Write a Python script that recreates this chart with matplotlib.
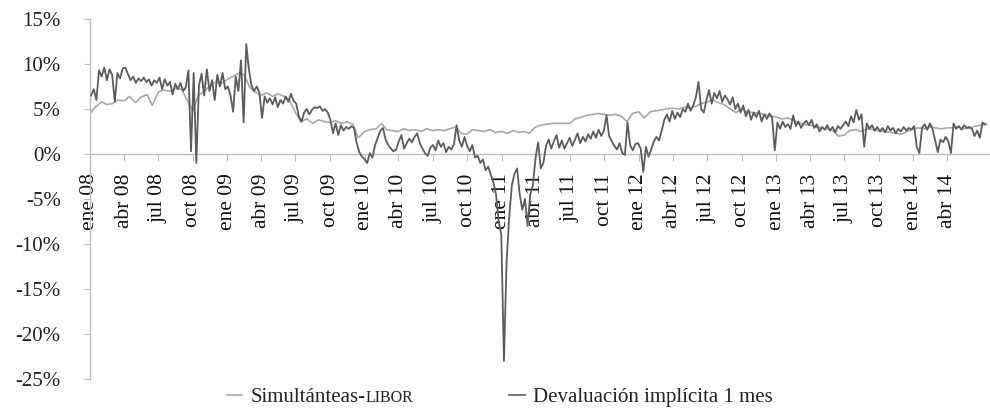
import matplotlib
matplotlib.use("Agg")
import matplotlib.pyplot as plt
from matplotlib.lines import Line2D
import pandas as pd

plt.rcParams['font.family'] = ['Liberation Serif', 'DejaVu Serif']

# ---------------- data ----------------
series_names = ["Simultánteas-", "Devaluación implícita 1 mes"]
libor_label = "LIBOR"

# Devaluación implícita 1 mes (weekly, %), starting first week of Jan 2008
dev_start = "2008-01-04"
dev_values = [
    # 2008
    6.5, 7.2, 6.0, 9.3, 8.6, 9.6, 8.2, 9.4, 8.8, 5.8, 9.0, 8.4, 9.5,
    9.6, 8.9, 8.2, 8.6, 7.9, 8.4, 8.1, 8.5, 8.0, 8.3, 7.6, 8.2, 7.9,
    8.5, 7.2, 8.3, 7.6, 8.0, 6.6, 7.8, 7.2, 7.9, 7.0, 7.4, 9.3, 0.3,
    9.0, -1.0, 7.6, 8.9, 6.5, 9.4, 7.0, 8.2, 6.0, 8.8, 7.5, 9.0, 7.2,
    # 2009
    7.5, 6.5, 4.7, 8.6, 7.0, 10.4, 3.5, 12.2, 9.4, 7.6, 7.0, 7.5, 6.8,
    4.0, 6.4, 5.7, 6.2, 5.5, 6.3, 5.2, 6.0, 5.6, 6.4, 5.8, 6.7, 5.9,
    5.6, 4.2, 3.6, 4.6, 5.0, 4.4, 4.9, 5.2, 5.1, 5.3, 4.8, 5.0, 4.6,
    3.8, 2.3, 3.4, 2.1, 3.2, 2.6, 3.0, 2.8, 3.1, 2.9, 1.2, 0.2, -0.3,
    # 2010
    -0.6, -1.0, 0.1, -0.4, 1.0, 1.8, 2.6, 2.9, 1.6, 1.0, 0.6, 0.3, 0.5,
    1.4, 2.1, 0.6, 1.2, 1.7, 1.3, 1.9, 2.3, 1.2, 0.6, 0.1, -0.2, 0.7,
    1.0, 0.4, 1.5, 0.8, 1.2, 0.2, 0.8, 0.5, 1.1, 3.2, 1.5, 0.8, 1.9,
    0.9, 0.3, 1.0, -0.4, -0.2, -1.0, -0.6, -1.8, -1.4, -2.3, -3.2, -4.5, -7.5,
    # 2011
    -9.0, -23.0, -12.0, -7.0, -3.5, -2.2, -1.6, -4.5, -6.2, -5.0, -8.0, -4.5, -3.5,
    -0.5, 1.3, -1.6, -1.0, 0.9, 1.6, 0.6, 1.4, 2.1, 0.7, 1.5, 0.6, 1.2,
    1.8, 0.9, 1.6, 2.3, 1.2, 1.9, 1.4, 2.2, 1.7, 2.5, 1.8, 2.7, 2.0,
    2.6, 4.3, 2.0, 1.4, 0.9, 0.5, 1.2, 0.1, -0.1, 3.5, 1.0, 0.4, 1.1,
    # 2012
    1.2, 0.6, -2.0, 0.8, -0.3, 0.5, 1.4, 1.9, 1.5, 2.6, 3.8, 4.4, 3.6,
    4.8, 3.9, 4.6, 4.1, 5.0, 4.7, 5.6, 4.8, 5.4, 6.3, 8.0, 5.0, 4.6,
    6.0, 7.1, 5.6, 6.8, 6.2, 7.0, 5.8, 6.5, 6.1, 5.5, 6.3, 5.0, 5.6,
    4.6, 5.4, 4.2, 4.9, 3.8, 4.6, 4.1, 4.8, 3.6, 4.4, 3.9, 4.5, 4.0,
    # 2013
    0.4, 3.5, 2.8, 3.6, 3.0, 3.3, 2.8, 4.3, 3.1, 3.6, 2.9, 3.4, 3.7,
    3.2, 3.8, 2.9, 3.3, 2.5, 3.0, 2.7, 3.2, 2.6, 3.0, 2.4, 3.1, 2.8,
    3.2, 3.6, 3.1, 4.2, 3.5, 4.9, 3.8, 4.4, 0.8, 3.4, 2.8, 3.2, 2.6,
    3.0, 2.5, 2.9, 2.4, 3.1, 2.6, 2.9, 2.3, 2.8, 2.5, 3.0, 2.6, 2.9,
    # 2014
    2.7, 3.1, 0.8, 0.1, 2.9, 3.3, 2.7, 3.4, 2.8, 1.5, 0.2, 1.6, 1.3,
    1.9, 1.4, 0.1, 3.4, 2.8, 3.1, 2.7, 3.2, 2.9, 3.0, 2.8, 2.0, 2.6,
    1.8, 3.5, 3.3,
]

# Simultáneas - LIBOR (semi-monthly, %), starting 1 Jan 2008
sim_start = "2008-01-01"
sim_values = [
    # 2008
    4.5, 5.2, 5.8, 5.5, 5.6, 6.0, 5.9, 6.4, 5.7, 6.3, 6.6, 5.4,
    6.9, 7.1, 7.0, 7.3, 7.2, 6.0, 4.8, 6.5, 7.0, 7.6, 8.0, 7.8,
    # 2009
    8.3, 8.6, 9.0, 8.8, 7.4, 6.9, 6.5, 6.8, 6.4, 6.7, 6.4, 6.0,
    4.6, 3.6, 3.9, 3.4, 3.8, 3.6, 3.5, 3.7, 3.4, 3.6, 3.3, 1.8,
    # 2010
    2.5, 2.7, 2.8, 3.4, 2.7, 2.6, 2.5, 2.8, 2.6, 2.7, 2.5, 2.8,
    2.6, 2.7, 2.6, 2.8, 3.0, 2.3, 2.2, 2.7, 2.6, 2.5, 2.7, 2.4,
    # 2011
    2.5, 2.3, 2.6, 2.4, 2.5, 2.3, 3.0, 3.2, 3.3, 3.4, 3.4, 3.4,
    3.4, 3.9, 4.1, 4.3, 4.4, 4.5, 4.4, 4.3, 4.4, 4.2, 3.6, 4.5,
    # 2012
    4.7, 4.0, 4.7, 4.8, 4.9, 5.0, 5.1, 5.0, 5.2, 5.1, 5.3, 5.6,
    5.8, 6.0, 5.7, 5.5, 5.0, 4.6, 5.0, 4.7, 4.6, 4.5, 4.4, 4.2,
    # 2013
    4.1, 3.9, 4.0, 3.8, 3.5, 3.3, 3.2, 3.0, 2.9, 2.8, 2.6, 2.0,
    2.1, 2.6, 2.7, 2.5, 2.8, 2.7, 2.6, 2.5, 2.4, 2.3, 2.2, 2.5,
    # 2014
    2.8, 2.9, 2.8, 3.0, 2.9, 2.8, 2.9, 2.9, 3.0, 2.8, 2.9, 3.1,
    3.2, 3.3,
]

tick_labels = [
    "ene 08", "abr 08", "jul 08", "oct 08",
    "ene 09", "abr 09", "jul 09", "oct 09",
    "ene 10", "abr 10", "jul 10", "oct 10",
    "ene 11", "abr 11", "jul 11", "oct 11",
    "ene 12", "abr 12", "jul 12", "oct 12",
    "ene 13", "abr 13", "jul 13", "oct 13",
    "ene 14", "abr 14",
]
y_ticks = [-25, -20, -15, -10, -5, 0, 5, 10, 15]

# ---------------- drawing ----------------
light = "#a8a8a8"
dark = "#5c5c5c"
axis_gray = "#bdbdbd"

dev_dates = pd.date_range(dev_start, periods=len(dev_values), freq="W-FRI")
sim_dates = pd.date_range(sim_start, periods=len(sim_values), freq="SMS")
tick_dates = pd.date_range("2008-01-01", periods=len(tick_labels), freq="QS")

W, H = 990, 412
fig = plt.figure(figsize=(W / 100, H / 100), dpi=100)
ax = fig.add_axes([90 / W, 33 / H, 900 / W, 360 / H])

ax.plot(sim_dates, sim_values, color=light, lw=1.2, zorder=2)
ax.plot(dev_dates, dev_values, color=dark, lw=1.3, zorder=3)

ax.set_ylim(-25, 15)
ax.set_xlim(pd.Timestamp("2008-01-01"), pd.Timestamp("2014-07-24"))

for s in ["top", "right"]:
    ax.spines[s].set_visible(False)
ax.spines["bottom"].set_position(("data", 0))
ax.spines["bottom"].set_color(axis_gray)
ax.spines["left"].set_color(axis_gray)
ax.spines["bottom"].set_linewidth(1.0)
ax.spines["left"].set_linewidth(1.0)

ax.set_yticks(y_ticks)
ax.set_yticklabels([f"{v}%" for v in y_ticks])
ax.tick_params(axis="y", length=4, color=axis_gray, labelsize=15, pad=17,
               labelcolor="#222222")

ax.set_xticks(tick_dates)
ax.set_xticklabels(tick_labels, rotation=90, ha="center", va="top")
ax.tick_params(axis="x", length=5, color=axis_gray, labelsize=15.5, pad=9,
               labelcolor="#111111")

handles = [Line2D([], [], color=light, lw=1.2),
           Line2D([], [], color=dark, lw=1.2)]
leg = fig.legend(handles, series_names, loc="center", bbox_to_anchor=(0.505, 0.036),
                 ncol=2, frameon=False, fontsize=15, handlelength=0.75,
                 handletextpad=0.4, columnspacing=6.9, borderpad=0.0,
                 labelcolor="#222222")

# small-caps style "LIBOR" right after the first legend label
fig.canvas.draw()
bb = leg.get_texts()[0].get_window_extent()
fig.text(bb.x1 / W, (bb.y0 + 1) / H, libor_label, fontsize=11.5,
         ha="left", va="bottom", color="#222222")

fig.savefig("out.png", dpi=100)
